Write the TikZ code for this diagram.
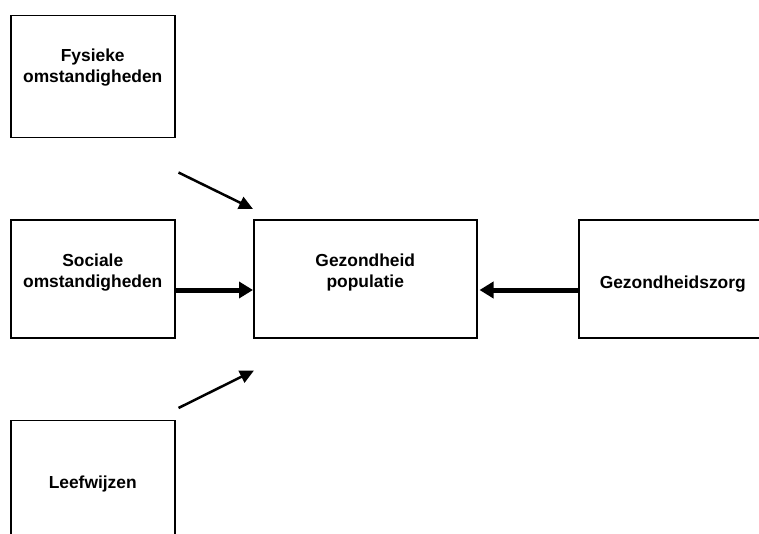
\documentclass[tikz,border=0pt]{standalone}
\usepackage{fontspec}
\setmainfont{Liberation Sans}
\usetikzlibrary{arrows.meta,positioning}

\begin{document}
\begin{tikzpicture}[x=1pt, y=-1pt, node distance=77.5pt,
	every node/.style={font=\bfseries\fontsize{17.4}{21}\selectfont, inner sep=0pt, align=center},
	box/.style={draw, line width=1.5pt, text width=164pt, text height=68pt, text depth=49.5pt},
	twoline/.style={text height=46pt, text depth=71.5pt},
	dunnepijl/.style={line width=2.5pt, -{Triangle[length=14pt,width=13pt]}},
	dikkepijl/.style={line width=5pt, -{Triangle[length=14pt,width=16pt]}}]
	\path[use as bounding box, clip] (0,0) rectangle (759,534);

	\node[box, twoline, anchor=north west] (soc) at (10,219.5) {Sociale\\omstandigheden};
	\node[box, twoline, text depth=76pt, above=81pt of soc] (fys) {Fysieke\\omstandigheden};
	\node[box, text depth=54pt, below=81pt of soc] (leef) {Leefwijzen};
	\node[box, twoline, text width=223pt, right=of soc] (gez) {Gezondheid\\populatie};
	\node[box, text width=188pt, right=100.5pt of gez] (zorg) {Gezondheidszorg};

	\coordinate[below right=34pt and 3pt of fys.south east] (fysuit);
	\coordinate[above=10.5pt of gez.north west] (gezboven);
	\coordinate[above right=11.5pt and 3pt of leef.north east] (leefuit);
	\coordinate[below right=32pt and 1pt of gez.south west] (gezonder);

	\draw[dunnepijl] (fysuit) -- (gezboven);
	\draw[dunnepijl] (leefuit) -- (gezonder);
	\draw[dikkepijl] ([yshift=-11pt]soc.east) -- ([yshift=-11pt]gez.west);
	\draw[dikkepijl] ([yshift=-11pt]zorg.west) -- ([xshift=2pt,yshift=-11pt]gez.east);
\end{tikzpicture}
\end{document}
